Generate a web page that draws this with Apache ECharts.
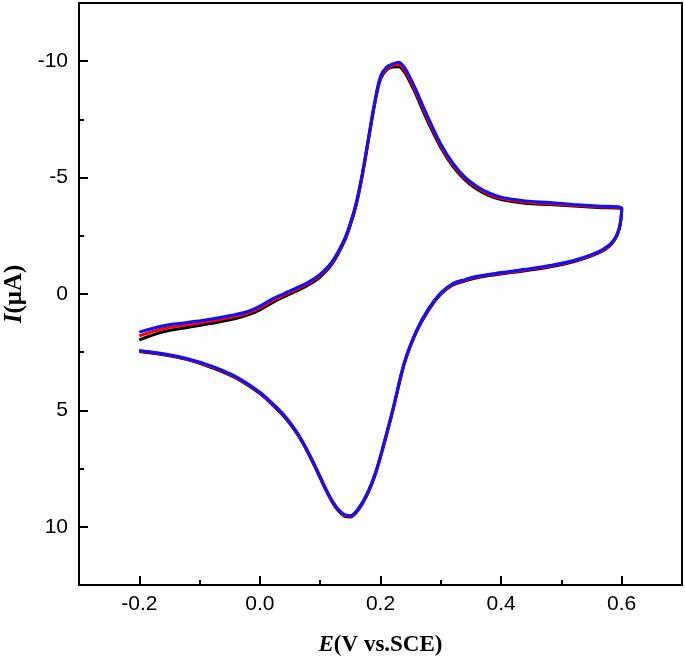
<!DOCTYPE html>
<html>
<head>
<meta charset="utf-8">
<script src="https://cdn.jsdelivr.net/npm/echarts@6/dist/echarts.min.js"></script>
<style>
html,body{margin:0;padding:0;background:#fff;}
#chart{width:685px;height:661px;}
</style>
</head>
<body>
<div id="chart"></div>
<script>
// Forward scan potentials (V vs SCE)
var fwdE = [-0.20,-0.16,-0.12,-0.08,-0.04,-0.02,0.00,0.02,0.04,0.06,0.08,0.10,0.12,0.14,0.15,0.16,0.17,0.18,0.19,0.20,0.21,0.22,0.23,0.24,0.25,0.26,0.27,0.28,0.30,0.32,0.34,0.36,0.38,0.40,0.44,0.48,0.52,0.56,0.60];
var blueFwd  = [1.64,1.36,1.22,1.07,0.88,0.75,0.52,0.22,-0.02,-0.25,-0.50,-0.85,-1.40,-2.35,-3.05,-3.95,-5.20,-6.70,-8.20,-9.35,-9.75,-9.88,-9.96,-9.72,-9.25,-8.70,-8.10,-7.52,-6.45,-5.62,-5.02,-4.62,-4.34,-4.16,-4.00,-3.93,-3.85,-3.78,-3.70];
var redFwd   = [1.80,1.48,1.32,1.16,0.96,0.82,0.60,0.30,0.05,-0.19,-0.45,-0.80,-1.36,-2.30,-3.00,-3.90,-5.15,-6.65,-8.15,-9.28,-9.68,-9.82,-9.86,-9.62,-9.15,-8.60,-8.00,-7.42,-6.37,-5.55,-4.96,-4.56,-4.28,-4.11,-3.95,-3.88,-3.81,-3.75,-3.68];
var blackFwd = [1.97,1.62,1.44,1.26,1.05,0.90,0.68,0.38,0.12,-0.12,-0.39,-0.74,-1.30,-2.25,-2.95,-3.85,-5.10,-6.60,-8.10,-9.22,-9.62,-9.75,-9.76,-9.52,-9.05,-8.50,-7.90,-7.32,-6.29,-5.48,-4.90,-4.50,-4.23,-4.06,-3.90,-3.84,-3.78,-3.72,-3.66];

// Reverse scan potentials (V vs SCE)
var revE = [0.599,0.596,0.590,0.580,0.560,0.520,0.480,0.440,0.400,0.360,0.340,0.320,0.300,0.280,0.260,0.240,0.220,0.200,0.190,0.180,0.170,0.160,0.150,0.140,0.130,0.120,0.110,0.100,0.090,0.080,0.070,0.060,0.040,0.020,0.000,-0.040,-0.080,-0.120,-0.160,-0.200];
var blueRev  = [-3.30,-2.85,-2.45,-2.12,-1.80,-1.44,-1.22,-1.06,-0.92,-0.76,-0.62,-0.45,-0.05,0.62,1.55,2.90,5.00,6.95,7.80,8.45,8.95,9.32,9.52,9.48,9.25,8.88,8.40,7.85,7.30,6.78,6.30,5.88,5.20,4.68,4.22,3.55,3.10,2.78,2.57,2.43];
var redRev   = [-3.27,-2.82,-2.42,-2.09,-1.77,-1.41,-1.19,-1.03,-0.89,-0.73,-0.59,-0.42,-0.02,0.65,1.58,2.93,5.03,6.98,7.83,8.48,8.98,9.35,9.55,9.51,9.28,8.91,8.43,7.88,7.33,6.81,6.33,5.91,5.23,4.71,4.25,3.58,3.13,2.80,2.59,2.45];
var blackRev = [-3.24,-2.79,-2.39,-2.06,-1.74,-1.38,-1.16,-1.00,-0.86,-0.70,-0.56,-0.39,0.01,0.68,1.61,2.96,5.06,7.01,7.86,8.51,9.01,9.38,9.58,9.54,9.31,8.94,8.46,7.91,7.36,6.84,6.36,5.94,5.26,4.74,4.28,3.61,3.16,2.82,2.61,2.47];

// Tick values
var xLabelTicks = [-0.2,0.0,0.2,0.4,0.6];
var xMinorTicks = [-0.1,0.1,0.3,0.5];
var yLabelTicks = [-10,-5,0,5,10];
var yMinorTicks = [-7.5,-2.5,2.5,7.5];

function loop(fI, rI) {
  var pts = [];
  for (var i = 0; i < fwdE.length; i++) pts.push([fwdE[i], fI[i]]);
  for (var j = 0; j < revE.length; j++) pts.push([revE[j], rI[j]]);
  return pts;
}

var chart = echarts.init(document.getElementById('chart'), null, {renderer: 'canvas'});
var sansFont = 'Liberation Sans, Arial, sans-serif';
var serifFont = 'Liberation Serif, Times New Roman, serif';
var axisLine = {show: true, onZero: false, lineStyle: {color: '#000', width: 2}};

function xAxisDef(values, len, withLabels) {
  return {
    type: 'value', min: -0.3, max: 0.7, position: 'bottom',
    axisLine: axisLine,
    splitLine: {show: false},
    axisTick: {show: true, inside: true, length: len, lineStyle: {color: '#000', width: 2}, customValues: values},
    axisLabel: {show: withLabels, customValues: values, margin: 9, fontFamily: sansFont, fontSize: 21, color: '#000',
      formatter: function (v) { return v.toFixed(1); }},
    name: withLabels ? '{i|E}(V vs.SCE)' : '',
    nameLocation: 'middle', nameGap: 49,
    nameTextStyle: {fontFamily: serifFont, fontWeight: 'bold', fontSize: 23, color: '#000',
      rich: {i: {fontFamily: serifFont, fontWeight: 'bold', fontStyle: 'italic', fontSize: 23, color: '#000'}}}
  };
}
function yAxisDef(values, len, withLabels) {
  return {
    type: 'value', min: -12.5, max: 12.5, inverse: true, position: 'left',
    axisLine: axisLine,
    splitLine: {show: false},
    axisTick: {show: true, inside: true, length: len, lineStyle: {color: '#000', width: 2}, customValues: values},
    axisLabel: {show: withLabels, customValues: values, margin: 11, fontFamily: sansFont, fontSize: 21, color: '#000'},
    name: withLabels ? '{i|I}(\u03bcA)' : '',
    nameLocation: 'middle', nameGap: 52, nameRotate: 90,
    nameTextStyle: {fontFamily: serifFont, fontWeight: 'bold', fontSize: 25, color: '#000',
      rich: {i: {fontFamily: serifFont, fontWeight: 'bold', fontStyle: 'italic', fontSize: 25, color: '#000'}}}
  };
}

function lineSeries(name, color, data) {
  return {
    name: name, type: 'line', data: data, xAxisIndex: 0, yAxisIndex: 0,
    showSymbol: false, smooth: 0.35, silent: true, animation: false,
    lineStyle: {color: color, width: 3}
  };
}

chart.setOption({
  animation: false,
  backgroundColor: '#fff',
  grid: {left: 79, right: 3, top: 3, bottom: 76, containLabel: false, outerBoundsMode: 'none',
    show: true, borderColor: '#000', borderWidth: 2, backgroundColor: 'transparent'},
  xAxis: [xAxisDef(xLabelTicks, 9, true), xAxisDef(xMinorTicks, 5, false)],
  yAxis: [yAxisDef(yLabelTicks, 9, true), yAxisDef(yMinorTicks, 5, false)],
  series: [
    lineSeries('black', '#000000', loop(blackFwd, blackRev)),
    lineSeries('red', '#ff0000', loop(redFwd, redRev)),
    lineSeries('blue', '#1010ff', loop(blueFwd, blueRev))
  ]
});
</script>
</body>
</html>
